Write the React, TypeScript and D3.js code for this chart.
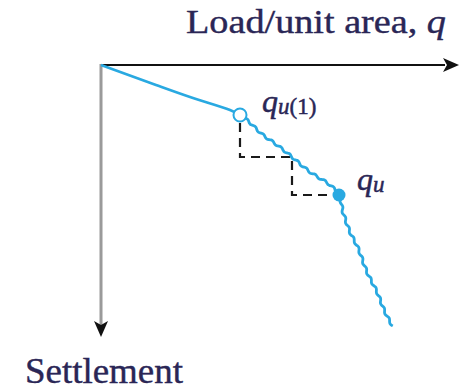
import React, { useLayoutEffect, useRef } from "react";
import * as d3 from "d3";

// Load–settlement curve (arbitrary units: load to the right, settlement downward)
const loadValues = [0, 55, 89, 129, 139, 146, 162, 176, 191, 209, 229, 238, 242, 249, 257, 266, 276, 284, 292];
const settlementValues = [0, 20, 32, 45, 50, 55, 70, 80, 92, 107, 120, 130, 147, 167, 183, 207, 227, 247, 262];

// Index of the first-failure point q_u(1) and the ultimate point q_u
const firstFailureIndex = 4;
const ultimateIndex = 11;

// Staircase construction between q_u(1) and q_u
const stepLoads = [139, 139, 191, 191, 238];
const stepSettlements = [50, 92, 92, 130, 130];

const axisTitleX = "Load/unit area, ";
const axisTitleXVar = "q";
const axisTitleY = "Settlement";

const W = 460;
const H = 391;
const BLUE = "#29a9e1";
const INK = "#2a2656";
const SERIF = "'Liberation Serif', 'Times New Roman', serif";

// Hand-drawn look for the post-failure branch: a small ripple laid along the path
const RIPPLE_AMPLITUDE = 1.0;
const RIPPLE_PERIOD = 11;

export default function App() {
  const roughRef = useRef<SVGPathElement | null>(null);
  const guideRef = useRef<SVGPathElement | null>(null);

  const x = d3.scaleLinear().domain([0, 354]).range([101, 455]);
  const y = d3.scaleLinear().domain([0, 270]).range([65, 335]);

  const pts: [number, number][] = loadValues.map((q, i) => [q, settlementValues[i]]);
  const line = d3
    .line<[number, number]>()
    .x((d) => x(d[0]))
    .y((d) => y(d[1]))
    .curve(d3.curveCatmullRom.alpha(0.5));

  const smoothPart = pts.slice(0, firstFailureIndex + 1);
  const roughPart = pts.slice(firstFailureIndex);

  const steps: [number, number][] = stepLoads.map((q, i) => [q, stepSettlements[i]]);
  const stepLine = d3
    .line<[number, number]>()
    .x((d) => x(d[0]))
    .y((d) => y(d[1]));

  useLayoutEffect(() => {
    const guide = guideRef.current;
    const rough = roughRef.current;
    if (!guide || !rough) return;
    const total = guide.getTotalLength();
    const out: [number, number][] = [];
    for (let s = 0; s <= total; s += 1) {
      const p = guide.getPointAtLength(s);
      const a = guide.getPointAtLength(Math.max(0, s - 1));
      const b = guide.getPointAtLength(Math.min(total, s + 1));
      const dx = b.x - a.x;
      const dy = b.y - a.y;
      const len = Math.hypot(dx, dy) || 1;
      const nx = -dy / len;
      const ny = dx / len;
      const fade = Math.min(1, s / 8);
      const off = RIPPLE_AMPLITUDE * fade * Math.sin((2 * Math.PI * s) / RIPPLE_PERIOD);
      out.push([p.x + nx * off, p.y + ny * off]);
    }
    const d = d3.line().curve(d3.curveBasis)(out) ?? "";
    d3.select(rough).attr("d", d);
  }, []);

  const x0 = x(0);
  const y0 = y(0);
  const xEnd = x.range()[1];
  const yEnd = y.range()[1];

  const qu1 = pts[firstFailureIndex];
  const qu = pts[ultimateIndex];

  return (
    <svg
      width={W}
      height={H}
      viewBox={`0 0 ${W} ${H}`}
      style={{ position: "absolute", left: 0, top: 0, background: "#fff" }}
    >
      {/* Axis title */}
      <text
        x={186}
        y={33}
        fontFamily={SERIF}
        fontSize={34}
        fill={INK}
        stroke={INK}
        strokeWidth={0.4}
        textLength={260}
        lengthAdjust="spacingAndGlyphs"
      >
        {axisTitleX}
        <tspan fontStyle="italic">{axisTitleXVar}</tspan>
      </text>

      {/* Load axis */}
      <line x1={x0} y1={y0} x2={xEnd - 10} y2={y0} stroke="#111" strokeWidth={2} />
      <path
        d={`M${xEnd + 4},${y0} L${xEnd - 12},${y0 - 7} L${xEnd - 8},${y0} L${xEnd - 12},${y0 + 7} Z`}
        fill="#111"
      />

      {/* Settlement axis */}
      <line x1={x0} y1={y0 - 1} x2={x0} y2={yEnd - 8} stroke="#9a9a9a" strokeWidth={3} />
      <path
        d={`M${x0},${yEnd + 2} L${x0 - 7},${yEnd - 14} L${x0},${yEnd - 10} L${x0 + 7},${yEnd - 14} Z`}
        fill="#111"
      />
      <text
        x={25}
        y={383}
        fontFamily={SERIF}
        fontSize={35}
        fill={INK}
        stroke={INK}
        strokeWidth={0.4}
        textLength={158}
        lengthAdjust="spacingAndGlyphs"
      >
        {axisTitleY}
      </text>

      {/* Staircase construction */}
      <path
        d={stepLine(steps) ?? ""}
        fill="none"
        stroke="#1a1a1a"
        strokeWidth={2.2}
        strokeDasharray="9 6"
        strokeDashoffset={-8}
      />

      {/* Load–settlement curve */}
      <path d={line(smoothPart) ?? ""} fill="none" stroke={BLUE} strokeWidth={2.6} />
      <path ref={guideRef} d={line(roughPart) ?? ""} fill="none" stroke="none" />
      <path
        ref={roughRef}
        d={line(roughPart) ?? ""}
        fill="none"
        stroke={BLUE}
        strokeWidth={2.8}
        strokeLinejoin="round"
      />

      {/* q_u(1) */}
      <circle cx={x(qu1[0])} cy={y(qu1[1])} r={6.5} fill="#fff" stroke={BLUE} strokeWidth={2} />
      <text x={262} y={112} fontFamily={SERIF} fill={INK} stroke={INK} strokeWidth={0.5}>
        <tspan fontStyle="italic" fontSize={32}>q</tspan>
        <tspan fontSize={23} dy={2}>
          <tspan fontStyle="italic">u</tspan>(1)
        </tspan>
      </text>

      {/* q_u */}
      <circle cx={x(qu[0])} cy={y(qu[1])} r={6.5} fill={BLUE} />
      <text x={357} y={190} fontFamily={SERIF} fill={INK} stroke={INK} strokeWidth={0.5}>
        <tspan fontStyle="italic" fontSize={32}>q</tspan>
        <tspan fontStyle="italic" fontSize={23} dy={2}>u</tspan>
      </text>
    </svg>
  );
}
